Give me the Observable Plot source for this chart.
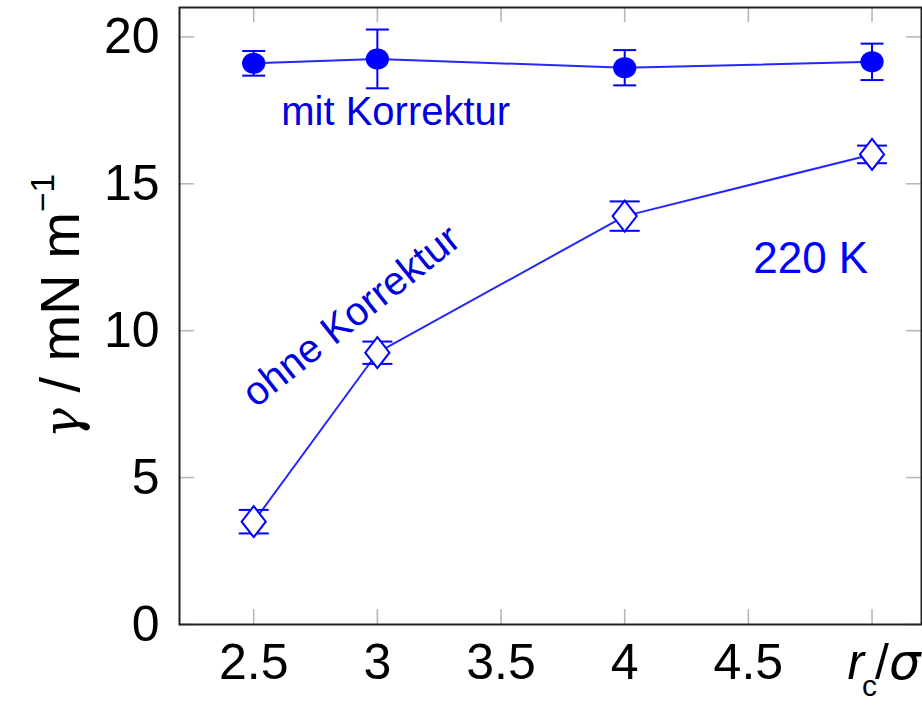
<!DOCTYPE html>
<html>
<head>
<meta charset="utf-8">
<script src="https://cdn.jsdelivr.net/npm/d3@7"></script>
<script src="https://cdn.jsdelivr.net/npm/@observablehq/plot@0.6"></script>
<style>
  body { margin: 0; background: #fff; }
  svg { display: block; }
</style>
</head>
<body>
<div id="chart"></div>
<script>
// Cutoff radius r_c/σ and surface tension γ (mN/m) at 220 K
const cutoffs = [2.5, 3, 4, 5];
const gammaCorrected = [19.1, 19.25, 18.95, 19.15];
const errCorrected = [0.42, 1.0, 0.6, 0.62];
const gammaUncorrected = [3.5, 9.25, 13.9, 16.0];
const errUncorrected = [0.4, 0.38, 0.5, 0.3];
const xTicks = [2.5, 3, 3.5, 4, 4.5, 5];
const yTicks = [0, 5, 10, 15, 20];

const rows = (vals, errs) => cutoffs.map((x, i) => ({x, y: vals[i], lo: vals[i] - errs[i], hi: vals[i] + errs[i]}));
const corrected = rows(gammaCorrected, errCorrected);
const uncorrected = rows(gammaUncorrected, errUncorrected);

const W = 922, H = 706;
const mL = 179, mR = 1, mT = 7, mB = 82;
const innerW = W - mL - mR, innerH = H - mT - mB;
const tickLen = 15;
const blue = "#0000ff";
const font = "'Liberation Sans', Arial, Helvetica, sans-serif";

// horizontal cap for error bars; r is the half-width
const capSymbol = {draw(ctx, size) { const h = Math.sqrt(size / Math.PI); ctx.moveTo(-h, 0); ctx.lineTo(h, 0); }};
// open diamond, slightly taller than wide
const diamondSymbol = {draw(ctx, size) {
  const r = Math.sqrt(size / Math.PI), w = r * 0.78;
  ctx.moveTo(0, -r); ctx.lineTo(w, 0); ctx.lineTo(0, r); ctx.lineTo(-w, 0); ctx.closePath();
}};
// filled marker, a little wider than tall
const ellipseSymbol = {draw(ctx, size) {
  const r = Math.sqrt(size / Math.PI), rx = r, ry = r * 0.9, k = 0.5523;
  ctx.moveTo(rx, 0);
  ctx.bezierCurveTo(rx, ry * k, rx * k, ry, 0, ry);
  ctx.bezierCurveTo(-rx * k, ry, -rx, ry * k, -rx, 0);
  ctx.bezierCurveTo(-rx, -ry * k, -rx * k, -ry, 0, -ry);
  ctx.bezierCurveTo(rx * k, -ry, rx, -ry * k, rx, 0);
  ctx.closePath();
}};

const errorMarks = (data, capR) => [
  Plot.ruleX(data, {x: "x", y1: "lo", y2: "hi", stroke: blue, strokeWidth: 2}),
  Plot.dot(data, {x: "x", y: "lo", r: capR, symbol: capSymbol, stroke: blue, strokeWidth: 2, fill: "none"}),
  Plot.dot(data, {x: "x", y: "hi", r: capR, symbol: capSymbol, stroke: blue, strokeWidth: 2, fill: "none"})
];

const chart = Plot.plot({
  width: W, height: H,
  marginLeft: mL, marginRight: mR, marginTop: mT, marginBottom: mB,
  style: {fontFamily: font, background: "#fff", color: "#000"},
  x: {domain: [2.2, 5.2]},
  y: {domain: [0, 21]},
  marks: [
    // inward ticks on all four sides
    Plot.tickX(xTicks, {x: d => d, stroke: "#b8b8b8", strokeWidth: 1.6, insetTop: innerH - tickLen}),
    Plot.tickX(xTicks, {x: d => d, stroke: "#b8b8b8", strokeWidth: 1.6, insetBottom: innerH - tickLen}),
    Plot.tickY(yTicks, {y: d => d, stroke: "#b8b8b8", strokeWidth: 1.6, insetRight: innerW - tickLen}),
    Plot.tickY(yTicks, {y: d => d, stroke: "#b8b8b8", strokeWidth: 1.6, insetLeft: innerW - tickLen}),
    Plot.axisX({ticks: xTicks, tickSize: 0, tickPadding: 19, fontSize: 50, label: null,
      tickFormat: d => d === 5 ? "rc/σ" : String(d)}),
    Plot.axisY({ticks: yTicks, tickSize: 0, tickPadding: 20, fontSize: 50, label: null}),
    Plot.text(["γ / mN m−1"], {frameAnchor: "left", textAnchor: "middle", rotate: -90, dx: -118, dy: -10, fontSize: 56, fill: "#000"}),
    Plot.frame({stroke: "#222", strokeWidth: 2}),
    // series lines
    Plot.line(corrected, {x: "x", y: "y", stroke: "#2626ff", strokeWidth: 2}),
    Plot.line(uncorrected, {x: "x", y: "y", stroke: "#2626ff", strokeWidth: 2}),
    ...errorMarks(corrected, 11.5),
    ...errorMarks(uncorrected, 15),
    Plot.dot(corrected, {x: "x", y: "y", r: 11.7, symbol: ellipseSymbol, fill: blue, stroke: "none"}),
    Plot.dot(uncorrected, {x: "x", y: "y", r: 15.5, symbol: diamondSymbol, fill: "#fff", stroke: blue, strokeWidth: 2}),
    // annotations
    Plot.text(["mit Korrektur"], {x: 3.074, y: 17.43, fontSize: 40, fill: "#0000dd"}),
    Plot.text(["ohne Korrektur"], {x: 2.895, y: 10.5, rotate: -38.5, fontSize: 40, fill: "#0000dd"}),
    Plot.text(["220 K"], {x: 4.752, y: 12.45, fontSize: 44, fill: blue})
  ]
});

// typographic details: italic γ with superscript −1, and r_c/σ with subscript
const svg = d3.select(chart);
svg.selectAll("text").each(function() {
  const t = d3.select(this);
  const s = this.textContent;
  if (s === "γ / mN m−1") {
    t.text(null);
    t.append("tspan").attr("font-family", "'DejaVu Serif', serif").attr("font-style", "italic").attr("font-size", "0.9em").text("γ");
    t.append("tspan").text(" / mN m");
    t.append("tspan").attr("font-size", "0.6em").attr("dy", "-0.75em").text("−1");
  } else if (s === "rc/σ") {
    t.text(null);
    t.append("tspan").attr("font-style", "italic").attr("dx", "12").text("r");
    t.append("tspan").attr("font-size", "0.6em").attr("dx", "-2").attr("dy", "0.55em").text("c");
    t.append("tspan").attr("dx", "-2").attr("dy", "-0.33em").text("/");
    t.append("tspan").attr("font-style", "italic").attr("font-family", "'DejaVu Sans', sans-serif").text("σ");
  }
});

document.getElementById("chart").appendChild(chart);
</script>
</body>
</html>
